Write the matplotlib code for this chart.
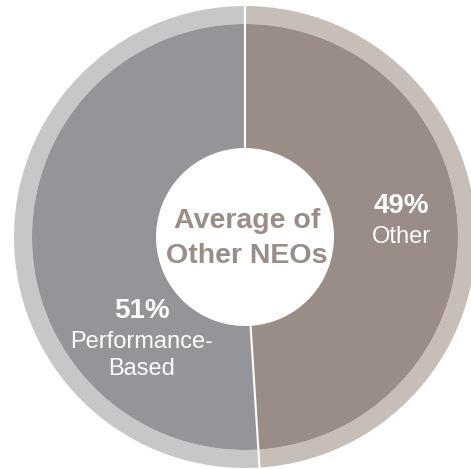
import numpy as np
import matplotlib.pyplot as plt

# Data

categories = ["Performance-Based", "Other"]
shares = [51, 49]
label_lines = [["Performance-", "Based"], ["Other"]]
center_title = ["Average of", "Other NEOs"]

# Colours: outer ring (light) and inner donut (dark)
ring_colors = ["#c6c7c9", "#c8beb8"]
inner_colors = ["#939598", "#9a8c86"]
title_color = "#9a8c86"

W, H = 471, 469
cx, cy = 245, H - 237
r_outer, r_inner, r_hole = 231, 213, 89

fig = plt.figure(figsize=(W / 100, H / 100), dpi=100)
ax = fig.add_axes([0, 0, 1, 1])

ax.pie(shares, colors=ring_colors, radius=r_outer, center=(cx, cy),
       startangle=90, counterclock=True,
       wedgeprops=dict(width=r_outer - r_inner, linewidth=0))
ax.pie(shares, colors=inner_colors, radius=r_inner, center=(cx, cy),
       startangle=90, counterclock=True,
       wedgeprops=dict(width=r_inner - r_hole, linewidth=0))

# White dividers between slices
bounds = 90 + 360 * np.cumsum([0] + shares[:-1]) / sum(shares)
for a in np.radians(bounds):
    ax.plot([cx + r_hole * np.cos(a), cx + (r_outer + 2) * np.cos(a)],
            [cy + r_hole * np.sin(a), cy + (r_outer + 2) * np.sin(a)],
            color="white", linewidth=1.5, solid_capstyle="butt")

ax.set_xlim(0, W)
ax.set_ylim(0, H)
ax.set_aspect("equal")
ax.axis("off")

font = "Liberation Sans"

# Slice labels (baseline positions in pixels from top)
label_pos = [(142, [318, 348, 375]), (401, [213, 243])]
for share, lines, (lx, ys) in zip(shares, label_lines, label_pos):
    ax.text(lx, H - ys[0], f"{share}%", ha="center", va="baseline",
            color="white", fontsize=20, fontweight="bold", family=font)
    for line, y in zip(lines, ys[1:]):
        ax.text(lx, H - y, line, ha="center", va="baseline",
                color="white", fontsize=17, family=font)

# Centre title
for line, y in zip(center_title, [228, 263]):
    ax.text(247, H - y, line, ha="center", va="baseline",
            color=title_color, fontsize=20.5, fontweight="bold", family=font)

fig.savefig("out.png", dpi=100)
